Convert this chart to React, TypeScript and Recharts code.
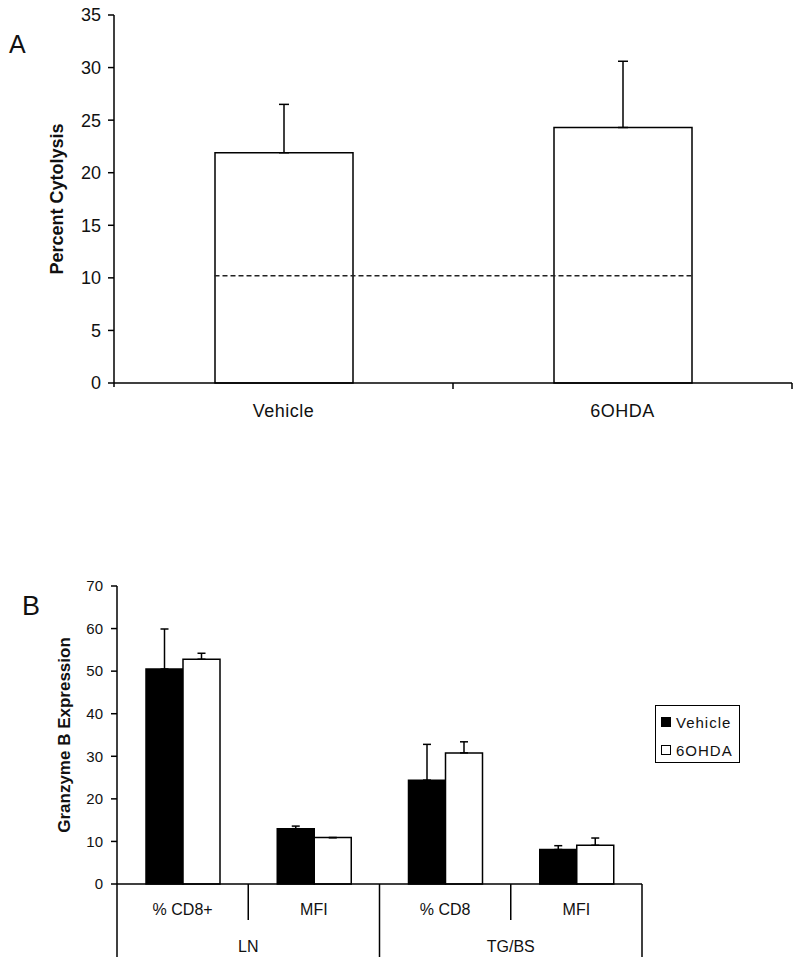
import { Bar, BarChart, ErrorBar, Legend, ReferenceLine, XAxis, YAxis } from "recharts";

const FONT = '"Liberation Sans", Arial, sans-serif';
const INK = "#111";

// panel A - percent cytolysis
const cytoCategories = ["Vehicle", "6OHDA"];
const cytoValues = [21.9, 24.3];
const cytoErrors = [4.6, 6.3];
const cytoBaseline = 10.2;
const cytoTicks = [0, 5, 10, 15, 20, 25, 30, 35];

// panel B - granzyme B expression
const gzmSubLabels = ["% CD8+", "MFI", "% CD8", "MFI"];
const gzmGroups = ["LN", "LN", "TG/BS", "TG/BS"];
const seriesNames = ["Vehicle", "6OHDA"];
const vehicleValues = [50.5, 13.0, 24.4, 8.1];
const vehicleErrors = [9.4, 0.6, 8.4, 0.9];
const ohdaValues = [52.8, 10.9, 30.8, 9.1];
const ohdaErrors = [1.4, 0, 2.6, 1.7];
const gzmTicks = [0, 10, 20, 30, 40, 50, 60, 70];

const cytoData = cytoCategories.map((name, i) => ({
  name,
  value: cytoValues[i],
  err: [0, cytoErrors[i]],
}));

const gzmData = gzmSubLabels.map((sub, i) => ({
  sub,
  group: gzmGroups[i],
  vehicle: vehicleValues[i],
  vehicleErr: [0, vehicleErrors[i]],
  ohda: ohdaValues[i],
  ohdaErr: [0, ohdaErrors[i]],
}));

const BAR_A = 138;
const axisStyle = { stroke: "#000", strokeWidth: 1.5 };

function CytoTick(props: any) {
  const { x, y, payload } = props;
  const half = payload.offset ?? 169.5;
  return (
    <g>
      <text x={x} y={y + 34} textAnchor="middle" fontSize={18} letterSpacing={0.5} fill={INK} fontFamily={FONT}>
        {payload.value}
      </text>
      <line x1={x + half} x2={x + half} y1={y} y2={y + 6} {...axisStyle} />
      {payload.index === 0 && <line x1={x - half} x2={x - half} y1={y} y2={y + 4} {...axisStyle} />}
    </g>
  );
}

function GzmTick(props: any) {
  const { x, y, payload } = props;
  const i = payload.index;
  const half = payload.offset ?? 65.6;
  const endOfGroup = i === gzmGroups.length - 1 || gzmGroups[i + 1] !== gzmGroups[i];
  const startOfGroup = i === 0 || gzmGroups[i - 1] !== gzmGroups[i];
  return (
    <g>
      <text x={x} y={y + 31} textAnchor="middle" fontSize={16} fill={INK} fontFamily={FONT}>
        {gzmSubLabels[i]}
      </text>
      <line x1={x + half} x2={x + half} y1={y} y2={endOfGroup ? y + 73 : y + 36} {...axisStyle} />
      {i === 0 && <line x1={x - half} x2={x - half} y1={y} y2={y + 73} {...axisStyle} />}
      {endOfGroup && !startOfGroup && (
        <text x={x - half} y={y + 68} textAnchor="middle" fontSize={16} fill={INK} fontFamily={FONT}>
          {gzmGroups[i]}
        </text>
      )}
    </g>
  );
}

function DashedSpan(props: any) {
  const { x1, y1, x2, y2 } = props;
  return (
    <line
      x1={x1 - BAR_A / 2}
      x2={x2 + BAR_A / 2}
      y1={y1}
      y2={y2}
      stroke="#222"
      strokeWidth={1.5}
      strokeDasharray="5 3"
    />
  );
}

function LegendBox(props: any) {
  const items = [...(props.payload ?? [])].sort(
    (a: any, b: any) => seriesNames.indexOf(a.value) - seriesNames.indexOf(b.value)
  );
  return (
    <div
      style={{
        border: "1.5px solid #000",
        width: 85,
        height: 58,
        boxSizing: "border-box",
        paddingTop: 2,
        paddingLeft: 5,
        fontFamily: FONT,
        fontSize: 15,
        color: INK,
        background: "#fff",
      }}
    >
      {items.map((it: any) => (
        <div key={it.value} style={{ display: "flex", alignItems: "center", height: 28 }}>
          <span
            style={{
              display: "inline-block",
              width: 10,
              height: 10,
              boxSizing: "border-box",
              border: "1px solid #000",
              background: it.color,
              marginRight: 5,
            }}
          />
          <span style={{ letterSpacing: 1 }}>{it.value}</span>
        </div>
      ))}
    </div>
  );
}

export default function App() {
  return (
    <div style={{ position: "absolute", left: 0, top: 0, width: 800, height: 963, background: "#fff" }}>
      <div style={{ position: "absolute", left: 0, top: 0 }}>
        <BarChart width={800} height={440} data={cytoData} margin={{ top: 15, right: 8, left: 0, bottom: 0 }}>
          <XAxis
            dataKey="name"
            height={57}
            axisLine={axisStyle}
            tickLine={false}
            tickSize={0}
            tickMargin={0}
            interval={0}
            tick={<CytoTick />}
          />
          <YAxis
            width={114}
            domain={[0, 35]}
            ticks={cytoTicks}
            interval={0}
            axisLine={axisStyle}
            tickLine={axisStyle}
            tickSize={6}
            tickMargin={7}
            tick={{ fontSize: 18, fill: INK, fontFamily: FONT }}
            label={{
              value: "Percent Cytolysis",
              angle: -90,
              position: "center",
              style: { fontSize: 18, fontWeight: "bold", fill: INK, fontFamily: FONT },
            }}
          />
          <Bar dataKey="value" barSize={BAR_A} fill="#fff" stroke="#000" strokeWidth={1.5} isAnimationActive={false}>
            <ErrorBar dataKey="err" width={5} stroke="#000" strokeWidth={1.5} direction="y" />
          </Bar>
          <ReferenceLine
            segment={[
              { x: cytoCategories[0], y: cytoBaseline },
              { x: cytoCategories[1], y: cytoBaseline },
            ]}
            shape={<DashedSpan />}
          />
        </BarChart>
      </div>

      <div style={{ position: "absolute", left: 0, top: 560 }}>
        <BarChart
          width={800}
          height={403}
          data={gzmData}
          barGap={0}
          margin={{ top: 26, right: 158, left: 0, bottom: 0 }}
        >
          <XAxis
            dataKey="sub"
            height={79}
            axisLine={axisStyle}
            tickLine={false}
            tickSize={0}
            tickMargin={0}
            interval={0}
            tick={<GzmTick />}
          />
          <YAxis
            width={117}
            domain={[0, 70]}
            ticks={gzmTicks}
            interval={0}
            axisLine={axisStyle}
            tickLine={axisStyle}
            tickSize={6}
            tickMargin={8}
            tick={{ fontSize: 15, fill: INK, fontFamily: FONT }}
            label={{
              value: "Granzyme B Expression",
              angle: -90,
              position: "center",
              dx: 5,
              style: { fontSize: 17, fontWeight: "bold", fill: INK, fontFamily: FONT },
            }}
          />
          <Legend
            layout="vertical"
            align="center"
            verticalAlign="middle"
            wrapperStyle={{ left: 655, top: 145, width: 85 }}
            content={<LegendBox />}
          />
          <Bar dataKey="vehicle" name={seriesNames[0]} barSize={37} fill="#000" stroke="#000" strokeWidth={1.5} isAnimationActive={false}>
            <ErrorBar dataKey="vehicleErr" width={4} stroke="#000" strokeWidth={1.5} direction="y" />
          </Bar>
          <Bar dataKey="ohda" name={seriesNames[1]} barSize={37} fill="#fff" stroke="#000" strokeWidth={1.5} isAnimationActive={false}>
            <ErrorBar dataKey="ohdaErr" width={4} stroke="#000" strokeWidth={1.5} direction="y" />
          </Bar>
        </BarChart>
      </div>

      <svg width={800} height={963} style={{ position: "absolute", left: 0, top: 0, pointerEvents: "none" }}>
        <text x={9} y={53} fontSize={25} fill={INK} fontFamily={FONT}>A</text>
        <text x={22} y={615} fontSize={27} fill={INK} fontFamily={FONT}>B</text>
      </svg>
    </div>
  );
}
